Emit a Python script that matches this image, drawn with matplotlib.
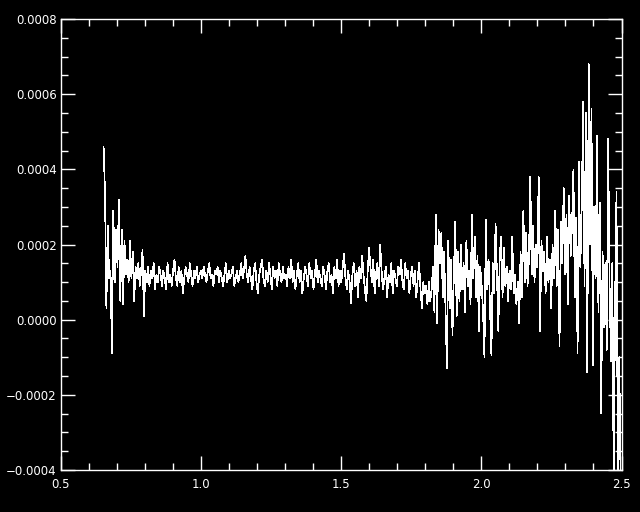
import numpy as np
import matplotlib
matplotlib.use("Agg")
import matplotlib.pyplot as plt
from matplotlib.ticker import MultipleLocator, FuncFormatter

# Signal values in units of 1e-4
seg_a = [4.6, 3.4, 0.3, 2.5, 1.1, 1.3, -0.9, 2.9, 1.0, 2.4,
         1.4, 3.2, 0.5, 2.4, 0.4, 2.1, 1.2, 1.6, 1.0, 2.1,
         1.1, 1.8, 0.5, 1.4, 1.1, 1.5, 0.9, 1.3, 1.85, 0.1, 1.3]
seg_b = [1.0, 1.4, 0.9, 1.3, 1.1, 1.5, 0.8, 1.2, 1.0, 1.4,
         1.2, 0.9, 1.3, 1.1, 0.8, 1.5, 1.0, 1.2, 0.9, 1.3,
         1.6, 1.1, 0.9, 1.4, 1.0, 1.3, 0.7, 1.1, 1.4, 1.2,
         1.0, 1.5, 1.2, 0.9, 1.3, 1.1, 1.4, 1.0, 1.2, 1.3,
         1.1, 1.4, 1.2, 1.0, 1.3, 1.5, 1.1, 1.2, 0.9, 1.3,
         1.2, 1.4, 1.0, 1.3, 1.1, 0.9, 1.2, 1.5, 1.0, 1.3,
         1.1, 1.2, 1.4, 0.9, 1.1, 1.3, 1.0, 1.2, 1.5, 1.1,
         1.3, 1.7, 1.2, 1.0, 1.4, 1.1, 0.8, 1.3, 1.5, 1.0,
         0.7, 1.2, 1.4, 1.6, 1.1, 0.9, 1.3, 1.0, 1.5, 1.2,
         0.8, 1.4, 1.1, 1.3, 0.9, 1.5, 1.2, 1.0, 1.4, 1.1]
seg_c = [1.2, 0.9, 1.4, 1.1, 1.6, 1.0, 1.3, 0.8, 1.2, 1.5,
         1.0, 1.3, 0.7, 1.1, 1.4, 1.2, 0.9, 1.5, 1.1, 1.3,
         0.8, 1.2, 1.6, 1.0, 1.3, 1.1, 0.9, 1.4, 1.2, 0.8,
         1.3, 1.5, 1.0, 1.2, 0.7, 1.4, 1.1, 1.6, 0.9, 1.3,
         1.0, 1.4, 1.75, 1.1, 0.8, 1.3, 1.0, 0.45, 1.2, 1.5,
         0.9, 1.3, 0.6, 1.4, 1.1, 1.7, 1.2, 0.8, 0.5, 1.3,
         1.9, 1.4, 1.0, 1.6, 0.7, 1.2, 1.5, 0.9, 2.0, 1.3,
         0.8, 1.1, 1.4, 0.6, 1.2, 1.0, 1.5, 0.7, 1.3, 1.1,
         0.9, 1.4, 1.2, 1.6, 1.0, 0.8, 1.5, 1.1, 1.3, 0.7,
         1.2, 1.4, 0.9, 1.3, 0.6, 1.1, 1.5, 0.8, 0.3, 1.0]
seg_d = [0.7, 0.9, 0.4, 1.0, 0.5, 0.8, 1.4, 0.2, 2.8, -0.1,
         2.4, 1.5, 2.3, 0.6, 1.8, 0.2, -1.3, 2.1, 0.3, 1.6,
         -0.4, 1.2, 2.6, 0.1, 1.8, 0.5, 2.0, 0.8, 1.5, 0.2,
         2.1, 0.9, 1.3, 0.4, 2.8, 1.1, 2.2, 0.6, 1.7, -0.3,
         1.4, 0.9, 0.2, -1.0, 2.65, 0.8, 1.6, 0.3, -0.95, 1.5,
         0.7, 2.56, 1.2, -0.3, 1.7, 2.2, 0.6, 1.9, 0.9, 1.4,
         0.5, 1.3, 0.8, 2.2, 0.7, 1.2, 0.4, 1.0, -0.1, 1.8]
seg_e = [0.6, 2.9, 1.0, 2.3, 0.9, 1.6, 3.8, 1.2, 2.5, 1.0,
         2.0, 1.4, 3.8, -0.3, 2.1, 1.3, 1.8, 0.7, 2.2, 1.0,
         1.6, 0.3, 2.0, 1.1, 2.9, 0.9, 2.4, -0.7, 2.6, 1.5,
         3.5, 1.2, 2.8, 0.4, 3.3, 1.7, 2.5, 4.0, 0.6, 2.7,
         -0.9, 4.2, 1.4, 3.0, 5.8, 0.9, 5.5, -1.4, 6.8, 2.0,
         5.6, -1.2, 3.0, 1.1, 4.9, 0.2, 3.1, -2.5, 1.8, -0.2,
         1.5, -0.8, 4.8, 1.0, -1.1, 1.5, -4.5, 0.5, 3.4, -4.5,
         -1.0, -4.5]

x_first = 0.652
x_last = 2.497

y_vals = np.array(seg_a + seg_b + seg_c + seg_d + seg_e) * 1e-4
x_vals = np.linspace(x_first, x_last, len(y_vals))

fig = plt.figure(figsize=(6.4, 5.12), dpi=100, facecolor="black")
ax = fig.add_axes([61 / 640, 42 / 512, 560.5 / 640, 451 / 512])
ax.set_facecolor("black")
ax.plot(x_vals, y_vals, color="white", lw=0.5, antialiased=False)

ax.set_xlim(0.5, 2.5)
ax.set_ylim(-0.0004, 0.0008)

ax.xaxis.set_major_locator(MultipleLocator(0.5))
ax.xaxis.set_minor_locator(MultipleLocator(0.1))
ax.yaxis.set_major_locator(MultipleLocator(0.0002))
ax.yaxis.set_minor_locator(MultipleLocator(0.00005))

ax.xaxis.set_major_formatter(FuncFormatter(lambda v, p: f"{v:.1f}"))


def yfmt(v, p):
    s = f"{abs(v):.4f}"
    return ("\u2212" + s) if v < -1e-12 else s


ax.yaxis.set_major_formatter(FuncFormatter(yfmt))

for sp in ax.spines.values():
    sp.set_color("white")
    sp.set_linewidth(1.0)

ax.tick_params(which="both", direction="in", colors="white",
               top=True, right=True, labelsize=8.5, width=1.0)
ax.tick_params(which="major", length=10)
ax.tick_params(which="minor", length=5)
ax.tick_params(axis="y", pad=3)
ax.tick_params(axis="x", pad=6)

fig.savefig("out.png", dpi=100, facecolor="black")
